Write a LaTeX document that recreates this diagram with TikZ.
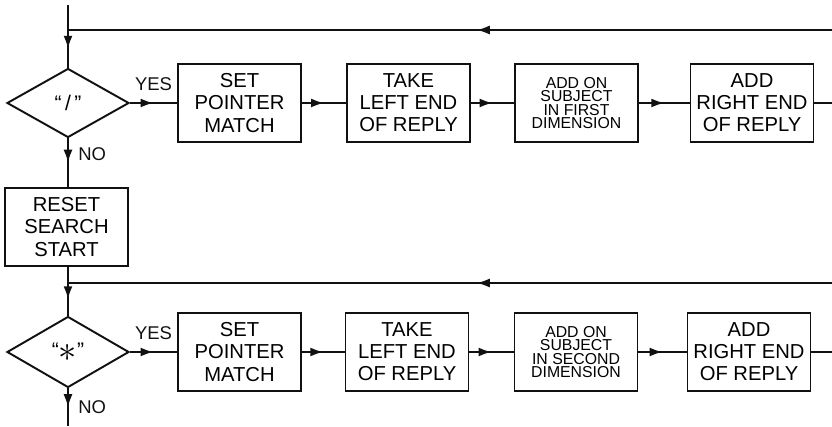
\documentclass[tikz,border=0pt]{standalone}
\usepackage{fontspec}
\setmainfont{Liberation Sans}
\usetikzlibrary{shapes.geometric, arrows.meta, decorations.markings, positioning}
\definecolor{tinta}{HTML}{111111}
\tikzset{
  paso/.style={rectangle, draw=tinta, line width=1.1pt, minimum width=2.46cm, minimum height=1.56cm,
               text centered, align=center, inner sep=2pt, font=\fontsize{11.5}{12.6}\selectfont},
  pasochico/.style={paso, font=\fontsize{9}{7.6}\selectfont},
  rombo/.style={diamond, draw=tinta, line width=1.1pt, minimum width=2.44cm, minimum height=1.38cm,
                inner sep=0pt, font=\fontsize{12}{14}\selectfont},
  etiqueta/.style={font=\fontsize{10.5}{12}\selectfont, text=tinta},
  linea/.style={line width=1.1pt, color=tinta},
  flecha/.style={linea, postaction={decorate},
                 decoration={markings, mark=at position #1 with {\arrow{Latex[length=2.6mm,width=1.8mm]}}}},
  flecha/.default=0.5
}
\begin{document}
\begin{tikzpicture}
  \useasboundingbox (0,0) rectangle (16.64,8.52);
  % primera pasada
  \coordinate (inicio) at (1.36,8.42);
  \coordinate (j1) at (1.36,7.92);
  \coordinate (borde1) at (16.64,7.92);
  \node (d1) [rombo] at (1.36,6.46) {“\,/\,”};
  \node (b1) [paso] at (4.79,6.46) {SET\\POINTER\\MATCH};
  \node (b2) [paso] at (8.17,6.46) {TAKE\\LEFT END\\OF REPLY};
  \node (b3) [pasochico] at (11.53,6.46) {ADD ON\\SUBJECT\\IN FIRST\\DIMENSION};
  \node (b4) [paso] at (15.04,6.46) {ADD\\RIGHT END\\OF REPLY};
  \coordinate (salida1) at (16.64,6.46);
  \draw [linea] (inicio) -- (j1);
  \draw [flecha] (j1) -- (d1.north);
  \draw [flecha=0.465] (borde1) -- (j1);
  \draw [flecha] (d1.east) -- (b1.west) node[etiqueta, midway, above=3pt] {YES};
  \draw [flecha] (b1) -- (b2); \draw [flecha] (b2) -- (b3); \draw [flecha] (b3) -- (b4);
  \draw [linea] (b4) -- (salida1);
  % reinicio
  \node (r) [paso] at (1.33,3.98) {RESET\\SEARCH\\START};
  \draw [flecha] (d1.south) -- (d1.south |- r.north) node[etiqueta, pos=0.32, right=2pt] {NO};
  % segunda pasada
  \coordinate (j2) at (1.36,2.86);
  \coordinate (borde2) at (16.64,2.86);
  \node (d2) [rombo, minimum height=1.42cm] at (1.36,1.48) {“\raisebox{-0.35ex}{\fontsize{22}{22}\selectfont$\ast$}”};
  \node (b5) [paso] at (4.79,1.48) {SET\\POINTER\\MATCH};
  \node (b6) [paso] at (8.14,1.48) {TAKE\\LEFT END\\OF REPLY};
  \node (b7) [pasochico] at (11.52,1.48) {ADD ON\\SUBJECT\\IN SECOND\\DIMENSION};
  \node (b8) [paso] at (14.98,1.48) {ADD\\RIGHT END\\OF REPLY};
  \coordinate (salida2) at (16.64,1.48);
  \coordinate (fin) at (1.36,0);
  \draw [linea] (r.south -| j2) -- (j2);
  \draw [flecha] (j2) -- (d2.north);
  \draw [flecha=0.465] (borde2) -- (j2);
  \draw [flecha] (d2.east) -- (b5.west) node[etiqueta, midway, above=3pt] {YES};
  \draw [flecha] (b5) -- (b6); \draw [flecha] (b6) -- (b7); \draw [flecha] (b7) -- (b8);
  \draw [linea] (b8) -- (salida2);
  \draw [flecha] (d2.south) -- (fin) node[etiqueta, midway, right=2pt] {NO};
\end{tikzpicture}
\end{document}
